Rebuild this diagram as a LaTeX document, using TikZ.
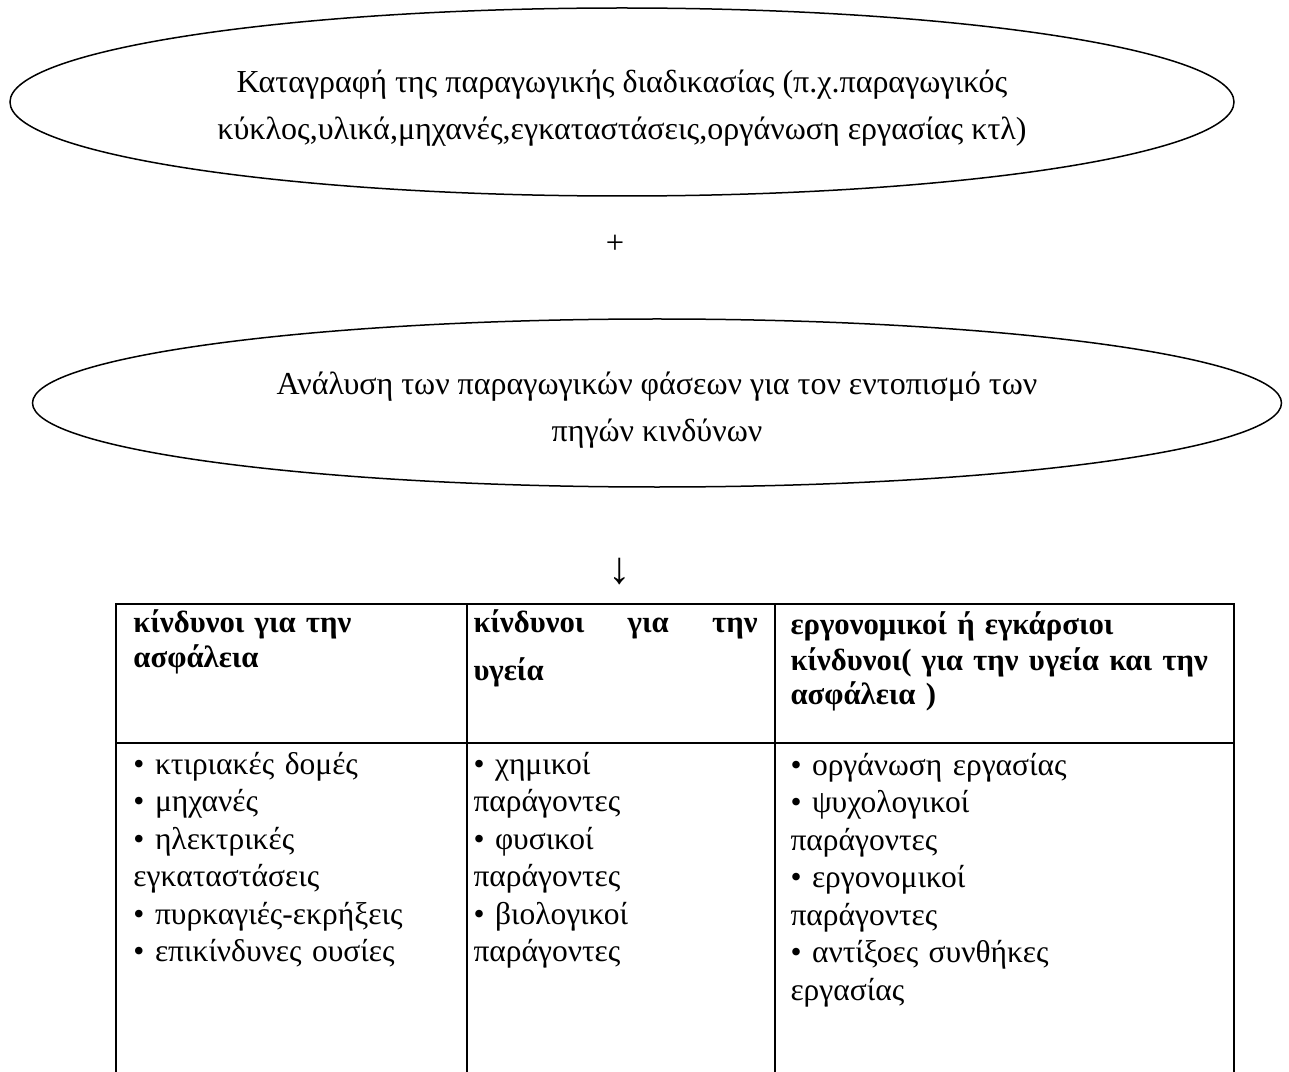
\documentclass[tikz,border=0pt]{standalone}
\usepackage{fontspec}
\setmainfont{Liberation Serif}
\usetikzlibrary{shapes.geometric}

\tikzset{
  phase/.style={draw, ellipse, line width=0.6pt, inner sep=0pt},
  phasetext/.style={inner sep=0pt, align=center, font=\fontsize{12.8}{18.8}\selectfont},
  headcell/.style={anchor=base west, inner sep=0pt, align=left, font=\fontsize{12.3}{14}\selectfont\bfseries},
  bodycell/.style={anchor=base west, inner sep=0pt, align=left, font=\fontsize{12.6}{15}\selectfont},
  grid/.style={line width=0.8pt}
}

\begin{document}
\begin{tikzpicture}[x=0.4pt,y=0.4pt,yscale=-1,xscale=1]
\path[use as bounding box] (0,0) rectangle (1289,1072);

%Shape: Ellipse
\node [phase, minimum width=489.6pt, minimum height=75.2pt] (record) at (622,102) {};
% Text Node
\node [phasetext, yshift=-2.4pt] (recordtext) at (record.center) {Καταγραφή της παραγωγικής διαδικασίας (π.χ.παραγωγικός\\κύκλος,υλικά,μηχανές,εγκαταστάσεις,οργάνωση εργασίας κτλ)};
% Text Node
\node [font=\fontsize{13}{15}\selectfont, inner sep=0pt] (plus) at (615,244) {+};
%Shape: Ellipse
\node [phase, minimum width=499.6pt, minimum height=67.2pt] (analysis) at (657,403) {};
% Text Node
\node [phasetext, yshift=-2.8pt] (analysistext) at (analysis.center) {Ανάλυση των παραγωγικών φάσεων για τον εντοπισμό των\\πηγών κινδύνων};
% Text Node
\node [font=\fontsize{18}{20}\selectfont, inner sep=0pt] (down) at (620,572) {↓};

%Shape: Table
\draw [grid] (116,1072) -- (116,604) -- (1234,604) -- (1234,1072);
\draw [grid] (467,604) -- (467,1072);
\draw [grid] (775,604) -- (775,1072);
\draw [grid] (116,743) -- (1234,743);

% Text Node
\node [headcell, text width=127pt] (hsafety) at (133,632) {κίνδυνοι για την\\ασφάλεια};
% Text Node
\node [headcell, text width=113.6pt] (hhealth) at (473,632) {κίνδυνοι\hfill για\hfill την\\[5.2pt]υγεία};
% Text Node
\node [headcell, text width=172pt] (hcross) at (790,635) {εργονομικοί ή εγκάρσιοι\\κίνδυνοι( για την υγεία και την\\ασφάλεια )};

% Text Node
\node [bodycell, text width=130pt] (bsafety) at (133,774) {• κτιριακές δομές\\• μηχανές\\• ηλεκτρικές\\εγκαταστάσεις\\• πυρκαγιές-εκρήξεις\\• επικίνδυνες ουσίες};
% Text Node
\node [bodycell, text width=116pt] (bhealth) at (473,774) {• χημικοί\\παράγοντες\\• φυσικοί\\παράγοντες\\• βιολογικοί\\παράγοντες};
% Text Node
\node [bodycell, text width=172pt] (bcross) at (790,775) {• οργάνωση εργασίας\\• ψυχολογικοί\\παράγοντες\\• εργονομικοί\\παράγοντες\\• αντίξοες συνθήκες\\εργασίας};

\end{tikzpicture}
\end{document}
